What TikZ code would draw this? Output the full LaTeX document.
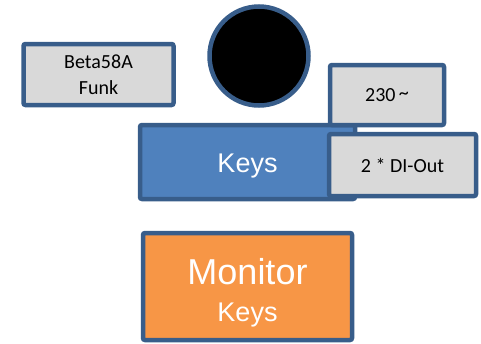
\documentclass[tikz,border=0pt]{standalone}
\usepackage{fontspec}
\setmainfont{Carlito}
\newfontfamily\arialfont{Liberation Sans}
\definecolor{bord}{HTML}{385D8A}
\definecolor{grayfill}{HTML}{D9D9D9}
\definecolor{bluefill}{HTML}{4F81BD}
\definecolor{orangefill}{HTML}{F79646}
\begin{document}
\begin{tikzpicture}[x=1pt,y=-1pt,
  box/.style={draw=bord,line width=4.5pt,rounded corners=2pt,inner sep=0pt,align=center},
  graybox/.style={box,fill=grayfill,text=black,font=\fontsize{20}{26}\selectfont},
  bluebox/.style={box,fill=bluefill,text=white,font=\arialfont\fontsize{27}{32}\selectfont},
  orangebox/.style={box,fill=orangefill,text=white,font=\arialfont\fontsize{27}{37}\selectfont}]
\useasboundingbox (0,0) rectangle (481,343);
\node[graybox,minimum width=150pt,minimum height=61pt] (beta) at (98.5,74.5) {Beta58A\\Funk};
\node[draw=bord,line width=4.5pt,fill=black,circle,minimum size=99pt,inner sep=0pt] (dot) at (259,56) {};
\node[bluebox,minimum width=215pt,minimum height=74pt] (keys) at (247.5,162) {\raisebox{-4.5pt}[\height][\depth]{Keys}};
\node[graybox,minimum width=114pt,minimum height=60pt] (ac) at (387,95) {230\,\raisebox{0.25ex}{\textasciitilde}};
\node[graybox,minimum width=147pt,minimum height=62pt] (di) at (402.5,165) {2 * DI-Out};
\node[orangebox,minimum width=209pt,minimum height=107pt] (mon) at (247.5,286.5)
  {\rule{0pt}{38pt}{\fontsize{36}{36}\selectfont Monitor}\\Keys};
\end{tikzpicture}
\end{document}
